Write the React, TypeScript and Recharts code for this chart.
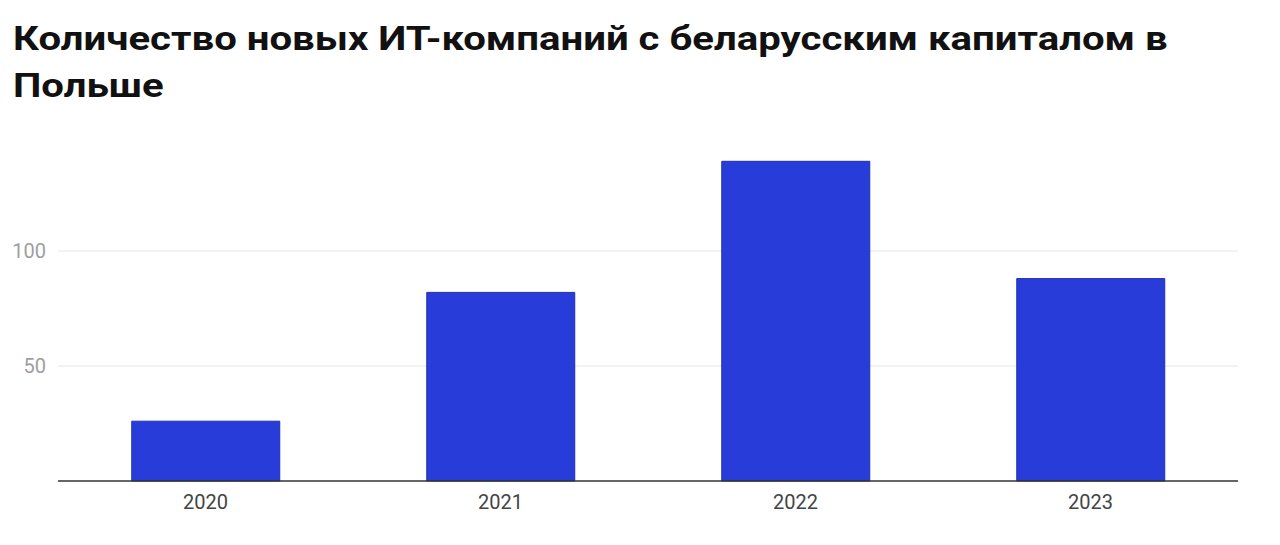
import React from 'react';
import { BarChart, Bar, XAxis, YAxis, CartesianGrid } from 'recharts';

const years = ['2020', '2021', '2022', '2023'];
const companies = [26, 82, 139, 88];
const yTicks = [50, 100];

const data = years.map((year, i) => ({ year, count: companies[i] }));

const App: React.FC = () => {
  return (
    <div
      style={{
        position: 'absolute',
        top: 0,
        left: 0,
        width: 1280,
        height: 545,
        background: '#fff',
        fontFamily: 'Roboto, sans-serif',
      }}
    >
      <div
        style={{
          position: 'absolute',
          left: 13,
          top: 15,
          whiteSpace: 'nowrap',
          fontSize: 34,
          fontWeight: 700,
          lineHeight: '47px',
          color: '#111',
          transform: 'scaleX(1.18)',
          transformOrigin: 'left top',
        }}
      >
        <div>Количество новых ИТ-компаний с беларусским капиталом в</div>
        <div>Польше</div>
      </div>
      <BarChart
        width={1280}
        height={545}
        data={data}
        margin={{ top: 136, right: 42, bottom: 33, left: 8 }}
        barCategoryGap="25%"
      >
        <CartesianGrid vertical={false} stroke="#e6e6e6" horizontalValues={yTicks} />
        <XAxis
          dataKey="year"
          height={31}
          tickLine={false}
          axisLine={{ stroke: '#333', strokeWidth: 1.5 }}
          tick={{ fill: '#444', fontSize: 20 }}
          tickMargin={8}
        />
        <YAxis
          width={50}
          domain={[0, 150]}
          ticks={yTicks}
          axisLine={false}
          tickLine={false}
          tick={{ fill: '#9e9e9e', fontSize: 20 }}
          tickMargin={6}
        />
        <Bar
          dataKey="count"
          fill="#283cd9"
          stroke="#1f30b0"
          strokeWidth={1}
          isAnimationActive={false}
        />
      </BarChart>
    </div>
  );
};

export default App;
